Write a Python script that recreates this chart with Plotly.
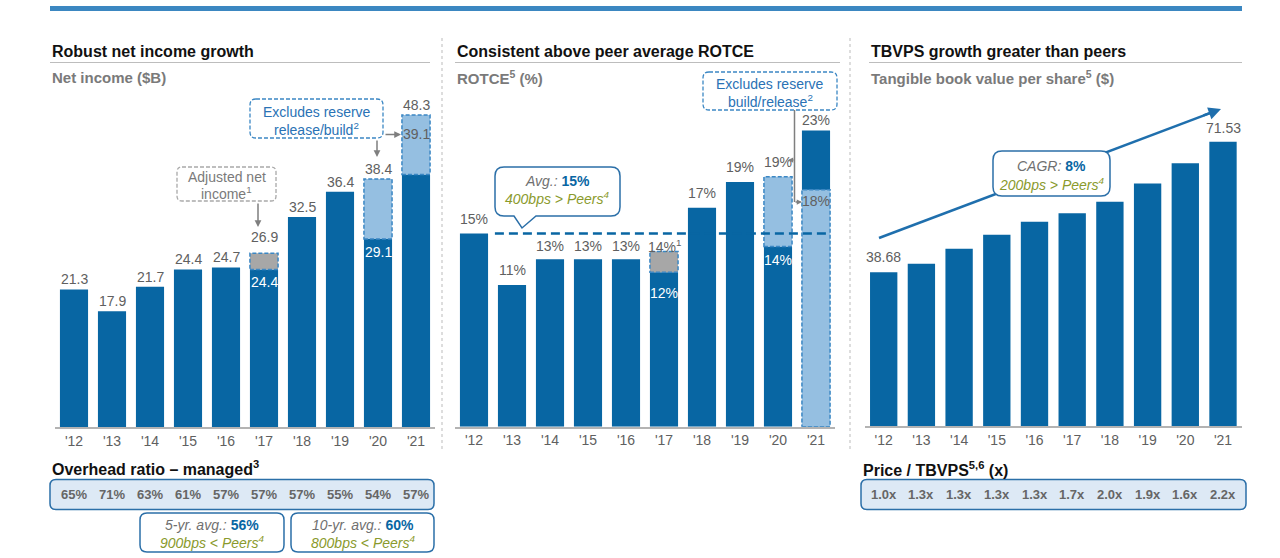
import plotly.graph_objects as go

W, H = 1280, 558
FONT = "Liberation Sans, Arial, sans-serif"

# ---------------- data ----------------
years = ["'12", "'13", "'14", "'15", "'16", "'17", "'18", "'19", "'20", "'21"]

# Net income ($B): reported, and adjusted / excl. reserve build-release
net_income = [21.3, 17.9, 21.7, 24.4, 24.7, 24.4, 32.5, 36.4, 29.1, 48.3]
net_income_adj = [None, None, None, None, None, 26.9, None, None, 38.4, 39.1]

# ROTCE (%): reported, and adjusted / excl. reserve build-release
rotce = [15, 11, 13, 13, 13, 12, 17, 19, 14, 23]
rotce_adj = [None, None, None, None, None, 13.6, None, None, 19.4, 18.4]
rotce_avg = 15

# Tangible book value per share ($)
tbvps = [38.68, 40.8, 44.6, 48.1, 51.4, 53.5, 56.4, 61.0, 66.1, 71.53]

overhead_ratio = [65, 71, 63, 61, 57, 57, 57, 55, 54, 57]
price_tbvps = [1.0, 1.3, 1.3, 1.3, 1.3, 1.7, 2.0, 1.9, 1.6, 2.2]

# ---------------- styles ----------------
DARK = "#0866a3"
LIGHT = "#95bfe1"
GREYBAR = "#a7a7a7"
OUTLINE = "#3b87c4"
TXT = "#606060"
BLUE_TXT = "#2a72b5"
OLIVE = "#8a9a2c"
BOX_LINE = "#2b6fa8"

idx = list(range(len(years)))
BW1, BW2, BW3 = 0.74, 0.74, 0.725


def P(x, y):
    return x / W, 1 - y / H


def rrect_path(x0, y0, x1, y1, r, pointer=None):
    pts = []
    def m(cmd, *xy):
        s = cmd
        for k in range(0, len(xy), 2):
            px, py = P(xy[k], xy[k + 1])
            s += f" {px:.5f},{py:.5f}"
        pts.append(s)
    m("M", x0 + r, y0)
    m("L", x1 - r, y0)
    m("Q", x1, y0, x1, y0 + r)
    m("L", x1, y1 - r)
    m("Q", x1, y1, x1 - r, y1)
    if pointer:
        (b2, tx, ty, b1) = pointer
        m("L", b2, y1)
        m("L", tx, ty)
        m("L", b1, y1)
    m("L", x0 + r, y1)
    m("Q", x0, y1, x0, y1 - r)
    m("L", x0, y0 + r)
    m("Q", x0, y0, x0 + r, y0)
    pts.append("Z")
    return " ".join(pts)


fig = go.Figure()
shapes = []
ann = []


def txt(x, y, text, size=14, color=TXT, anchor="center", **kw):
    px, py = P(x, y)
    ann.append(dict(x=px, y=py, xref="paper", yref="paper", text=text, showarrow=False,
                    xanchor=anchor, yanchor="middle",
                    font=dict(family=FONT, size=size, color=color), **kw))


def arrow(x, y, ax, ay, color="#7f7f7f", width=1.5, size=0.9):
    px, py = P(x, y)
    ann.append(dict(x=px, y=py, xref="paper", yref="paper", text="", showarrow=True,
                    ax=ax, ay=ay, axref="pixel", ayref="pixel",
                    arrowhead=2, arrowsize=size, arrowwidth=width, arrowcolor=color))


def pline(xa, ya, xb, yb, color, width, dash=None, layer="above"):
    a0 = P(xa, ya); a1 = P(xb, yb)
    ln = dict(color=color, width=width)
    if dash:
        ln["dash"] = dash
    shapes.append(dict(type="line", xref="paper", yref="paper", x0=a0[0], x1=a1[0],
                       y0=a0[1], y1=a1[1], line=ln, layer=layer))


# ---------- Panel 1: net income ----------
dark1 = [min(v, a) if a is not None else v for v, a in zip(net_income, net_income_adj)]
fig.add_bar(x=idx, y=dark1, width=BW1, marker=dict(color=DARK, line_width=0),
            xaxis="x", yaxis="y", hoverinfo="skip")
for i, (v, a) in enumerate(zip(net_income, net_income_adj)):
    if a is None:
        continue
    lo, hi = min(v, a), max(v, a)
    col = GREYBAR if i == 5 else LIGHT
    fig.add_bar(x=[i], y=[hi - lo], base=[lo], width=BW1, marker=dict(color=col, line_width=0),
                xaxis="x", yaxis="y", hoverinfo="skip")
    shapes.append(dict(type="rect", xref="x", yref="y", x0=i - BW1 / 2, x1=i + BW1 / 2,
                       y0=lo, y1=hi, line=dict(color=OUTLINE, width=1.5, dash="4px,2px"),
                       layer="above"))

top_shift1 = [10, 10, 10, 10, 10, 16, 10, 10, 10, 10]
for i, (v, a) in enumerate(zip(net_income, net_income_adj)):
    top = max(v, a) if a is not None else v
    ann.append(dict(x=i, y=top, xref="x", yref="y", text=f"{top:.1f}", showarrow=False,
                    yanchor="middle", yshift=top_shift1[i],
                    font=dict(family=FONT, size=14, color=TXT)))
    if a is not None:
        lo = min(v, a)
        if i == 9:
            ann.append(dict(x=i, y=top, xref="x", yref="y", text=f"{lo:.1f}", showarrow=False,
                            yanchor="middle", yshift=-19,
                            font=dict(family=FONT, size=14, color=TXT)))
        else:
            ann.append(dict(x=i, y=lo, xref="x", yref="y", text=f"{lo:.1f}", showarrow=False,
                            yanchor="middle", yshift=-13,
                            font=dict(family=FONT, size=14, color="white")))

# ---------- Panel 2: ROTCE ----------
fig.add_bar(x=idx, y=rotce, width=BW2, marker=dict(color=DARK, line_width=0),
            xaxis="x2", yaxis="y2", hoverinfo="skip")
for i, (v, a) in enumerate(zip(rotce, rotce_adj)):
    if a is None:
        continue
    if a < v and i == 9:
        lo, hi = 0, a
    else:
        lo, hi = min(v, a), max(v, a)
    col = GREYBAR if i == 5 else LIGHT
    fig.add_bar(x=[i], y=[hi - lo], base=[lo], width=BW2, marker=dict(color=col, line_width=0),
                xaxis="x2", yaxis="y2", hoverinfo="skip")
    shapes.append(dict(type="rect", xref="x2", yref="y2", x0=i - BW2 / 2, x1=i + BW2 / 2,
                       y0=lo, y1=hi, line=dict(color=OUTLINE, width=1.5, dash="4px,2px"),
                       layer="above"))

top_shift2 = [15, 15, 13, 13, 13, 6, 15, 15, 15, 10]
for i, (v, a) in enumerate(zip(rotce, rotce_adj)):
    top = max(v, a) if a is not None else v
    label = f"{round(top)}%" + ("<sup>1</sup>" if i == 5 else "")
    ann.append(dict(x=i, y=top, xref="x2", yref="y2", text=label, showarrow=False,
                    yanchor="middle", yshift=top_shift2[i],
                    font=dict(family=FONT, size=14, color=TXT)))
    if a is not None:
        if i == 9:
            ann.append(dict(x=i, y=a, xref="x2", yref="y2", text=f"{round(a)}%", showarrow=False,
                            yanchor="middle", yshift=-11,
                            font=dict(family=FONT, size=14, color=TXT)))
        else:
            lo = min(v, a)
            ann.append(dict(x=i, y=lo, xref="x2", yref="y2", text=f"{round(lo)}%", showarrow=False,
                            yanchor="middle", yshift=-21 if i == 5 else -14,
                            font=dict(family=FONT, size=14, color="white")))

shapes.append(dict(type="line", xref="x2", yref="y2", x0=0.55, x1=9.37, y0=rotce_avg, y1=rotce_avg,
                   line=dict(color=DARK, width=2.5, dash="9px,5px"), layer="above"))

# ---------- Panel 3: TBVPS ----------
fig.add_bar(x=idx, y=tbvps, width=BW3, marker=dict(color=DARK, line_width=0),
            xaxis="x3", yaxis="y3", hoverinfo="skip")
for i in (0, len(tbvps) - 1):
    ann.append(dict(x=i, y=tbvps[i], xref="x3", yref="y3", text=f"{tbvps[i]:.2f}",
                    showarrow=False, yanchor="middle", yshift=15 if i == 0 else 13.5,
                    font=dict(family=FONT, size=14, color=TXT)))

# ---------- decorations ----------
# top band
x0, y0 = P(50, 6); x1, y1 = P(1242, 11)
shapes.append(dict(type="rect", xref="paper", yref="paper", x0=x0, y0=y0, x1=x1, y1=y1,
                   fillcolor="#3b87c1", line_width=0))
# vertical dotted separators
for sx in (442, 850):
    pline(sx, 38, sx, 452, "#d2d2d2", 1.5, "3px,3px")
# title underline
for lx0, lx1 in ((50, 430), (455, 840), (869, 1242)):
    pline(lx0, 62.5, lx1, 62.5, "#bdbdbd", 1)

# titles / subtitles
txt(50, 52, "<b>Robust net income growth</b>", 16, "#111111", "left")
txt(455, 52, "<b>Consistent above peer average ROTCE</b>", 16, "#111111", "left")
txt(869, 52, "<b>TBVPS growth greater than peers</b>", 16, "#111111", "left")
txt(50, 77, "<b>Net income ($B)</b>", 15, "#7a7a7a", "left")
txt(455, 77, "<b>ROTCE<sup>5</sup> (%)</b>", 15, "#7a7a7a", "left")
txt(869, 77, "<b>Tangible book value per share<sup>5</sup> ($)</b>", 15, "#7a7a7a", "left")

# panel 1 callouts
shapes.append(dict(type="path", xref="paper", yref="paper", path=rrect_path(250, 99, 383, 138, 6),
                   line=dict(color=OUTLINE, width=1.3, dash="4px,2px"), fillcolor="white"))
txt(316.5, 112, "Excludes reserve", 14, BLUE_TXT)
txt(316.5, 128.5, "release/build<sup>2</sup>", 14, BLUE_TXT)
shapes.append(dict(type="path", xref="paper", yref="paper", path=rrect_path(177, 167, 276, 201, 5),
                   line=dict(color="#a9a9a9", width=1.3, dash="4px,2px"), fillcolor="white"))
txt(226.5, 177, "Adjusted net", 14, "#7a7a7a")
txt(226.5, 193, "income<sup>1</sup>", 14, "#7a7a7a")
arrow(258, 227, 0, -25)
arrow(377, 157, 0, -18)
arrow(401, 134.5, -17, 0)

# panel 2 callouts
shapes.append(dict(type="path", xref="paper", yref="paper", path=rrect_path(703, 72, 837, 110, 6),
                   line=dict(color=OUTLINE, width=1.3, dash="4px,2px"), fillcolor="white"))
txt(770, 84, "Excludes reserve", 14, BLUE_TXT)
txt(770, 100.5, "build/release<sup>2</sup>", 14, BLUE_TXT)
pline(794.5, 110, 794.5, 202, "#7f7f7f", 1.5)
arrow(788, 160, 7, 0, size=0.7)
arrow(802, 202, -8, 0, size=0.7)

shapes.append(dict(type="path", xref="paper", yref="paper",
                   path=rrect_path(495, 167, 620, 216, 9, pointer=(536, 522, 228, 514)),
                   line=dict(color=BOX_LINE, width=1.5), fillcolor="white"))
txt(557, 180.5, f"<i>Avg.:</i> <b><span style='color:{DARK}'>{rotce_avg}%</span></b>", 14, "#707070")
txt(557, 198, "<i>400bps &gt; Peers<sup>4</sup></i>", 14, OLIVE)

# panel 3 growth arrow (line behind callout box, head as annotation)
pline(879, 238, 1212, 112.4, "#1f6fad", 2.5)
arrow(1221, 109, -19, 7, color="#1f6fad", width=2.5, size=1.0)
shapes.append(dict(type="path", xref="paper", yref="paper", path=rrect_path(993, 151, 1110, 196, 9),
                   line=dict(color=BOX_LINE, width=1.5), fillcolor="white"))
txt(1051.5, 166, f"<i>CAGR:</i> <b><span style='color:{DARK}'>8%</span></b>", 14, "#707070")
txt(1051.5, 183.5, "<i>200bps &gt; Peers<sup>4</sup></i>", 14, OLIVE)

# overhead ratio strip
txt(50, 468, "<b>Overhead ratio – managed<sup>3</sup></b>", 16, "#111111", "left")
shapes.append(dict(type="path", xref="paper", yref="paper", path=rrect_path(50, 479.5, 434, 509.5, 6),
                   line=dict(color=BOX_LINE, width=1.5), fillcolor="#dde9f5"))
for i, v in enumerate(overhead_ratio):
    ann.append(dict(x=i, y=P(0, 494.5)[1], xref="x", yref="paper", text=f"<b>{v}%</b>",
                    showarrow=False, yanchor="middle",
                    font=dict(family=FONT, size=13, color="#666666")))
for bx0, bx1, lab, val, bps in ((140, 284, "5-yr. avg.:", 56, "900bps"),
                                (291, 434, "10-yr. avg.:", 60, "800bps")):
    shapes.append(dict(type="path", xref="paper", yref="paper", path=rrect_path(bx0, 513, bx1, 552, 7),
                       line=dict(color=BOX_LINE, width=1.5), fillcolor="white"))
    cx = (bx0 + bx1) / 2
    txt(cx, 525, f"<i>{lab}</i> <b><span style='color:{DARK}'>{val}%</span></b>", 14, "#707070")
    txt(cx, 542, f"<i>{bps} &lt; Peers<sup>4</sup></i>", 14, OLIVE)

# price / TBVPS strip
txt(861, 469, "<b>Price / TBVPS<sup>5,6</sup> (x)</b>", 16, "#111111", "left")
shapes.append(dict(type="path", xref="paper", yref="paper", path=rrect_path(861, 479.5, 1246, 509.5, 6),
                   line=dict(color=BOX_LINE, width=1.5), fillcolor="#dde9f5"))
for i, v in enumerate(price_tbvps):
    ann.append(dict(x=i, y=P(0, 494.5)[1], xref="x3", yref="paper", text=f"<b>{v:.1f}x</b>",
                    showarrow=False, yanchor="middle",
                    font=dict(family=FONT, size=13, color="#666666")))

# ---------- axes ----------
def xax(d0, d1, anchor):
    return dict(domain=[d0 / W, d1 / W], range=[-0.5, 9.5], tickvals=idx, ticktext=years,
                showline=True, linecolor="#b3b3b3", linewidth=1.5, ticks="", showgrid=False,
                zeroline=False, tickfont=dict(family=FONT, size=14, color=TXT), anchor=anchor,
                fixedrange=True)


def yax(bottom_px, top_val, anchor):
    return dict(domain=[1 - bottom_px / H, 1 - 100 / H], range=[0, top_val], visible=False,
                showgrid=False, zeroline=False, anchor=anchor, fixedrange=True)


fig.update_layout(
    width=W, height=H, autosize=False,
    margin=dict(l=0, r=0, t=0, b=0),
    paper_bgcolor="white", plot_bgcolor="white",
    barmode="overlay", showlegend=False,
    font=dict(family=FONT),
    xaxis=xax(55, 435, "y"), yaxis=yax(427, 327 / 6.46, "x"),
    xaxis2=xax(455, 835, "y2"), yaxis2=yax(426.7, 326.7 / 12.88, "x2"),
    xaxis3=xax(864.85, 1241.85, "y3"), yaxis3=yax(426, 326 / 3.975, "x3"),
    shapes=shapes, annotations=ann,
)

fig.write_html("out.html", config={"displayModeBar": False},
               post_script="document.body.style.margin='0';document.body.style.overflow='hidden';")
